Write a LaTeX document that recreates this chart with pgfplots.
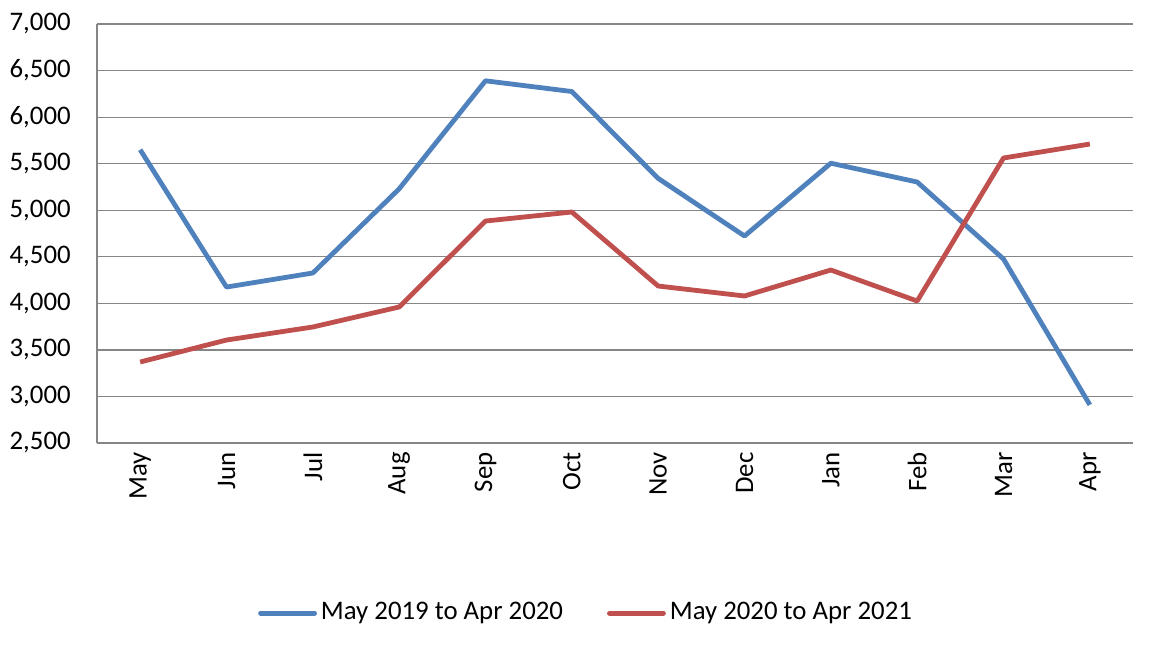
\documentclass[border=0pt]{standalone}
\usepackage{fontspec}
\setmainfont{Carlito}
\usepackage{pgfplots}
\pgfplotsset{compat=1.18}
\definecolor{sblue}{HTML}{4F81BD}
\definecolor{sred}{HTML}{C0504D}
\definecolor{gridg}{HTML}{868686}
\begin{document}
\fontsize{13.4pt}{16pt}\selectfont
\begin{tikzpicture}
\begin{axis}[
  scale only axis, width=518pt, height=209.5pt,
  anchor=south west, at={(0,0)},
  xmin=-0.5, xmax=11.5, ymin=2500, ymax=7000,
  xtick={0,...,11},
  xticklabels={May,Jun,Jul,Aug,Sep,Oct,Nov,Dec,Jan,Feb,Mar,Apr},
  x tick label style={rotate=90, anchor=east, yshift=0pt, xshift=0pt, font=\fontsize{13.4pt}{16pt}\selectfont},
  ytick={2500,3000,...,7000},
  y tick label style={xshift=-8.5pt, font=\fontsize{13.4pt}{16pt}\selectfont},
  /pgf/number format/assume math mode=true,
  /pgf/number format/.cd, 1000 sep={,}, fixed, /pgfplots/.cd,
  major tick length=0pt,
  ymajorgrids, grid style={gridg, line width=0.6pt},
  axis x line*=bottom, axis y line*=left,
  axis line style={gridg, line width=0.6pt, -},
  legend style={at={(rel axis cs:0.473,-0.406)}, anchor=center, draw=none, legend columns=2,
    font=\fontsize{13.4pt}{16pt}\selectfont,
    /tikz/every even column/.append style={column sep=20pt}},
  legend image code/.code={\draw[#1, line width=2.4pt, line cap=round] (0pt,0pt) -- (27pt,0pt);},
  clip=false,
]
\addplot[sblue, line width=2.4pt, line join=round] coordinates {
(0,5650) (1,4175) (2,4326) (3,5230) (4,6390) (5,6275) (6,5342) (7,4723) (8,5505) (9,5303) (10,4476) (11,2910)};
\addlegendentry{May 2019 to Apr 2020}
\addplot[sred, line width=2.4pt, line join=round] coordinates {
(0,3370) (1,3606) (2,3746) (3,3961) (4,4884) (5,4981) (6,4186) (7,4079) (8,4358) (9,4025) (10,5561) (11,5711)};
\addlegendentry{May 2020 to Apr 2021}
\end{axis}
\pgfresetboundingbox
\useasboundingbox (-48.5pt,-101pt) rectangle (531pt,221.5pt);
\end{tikzpicture}
\end{document}
